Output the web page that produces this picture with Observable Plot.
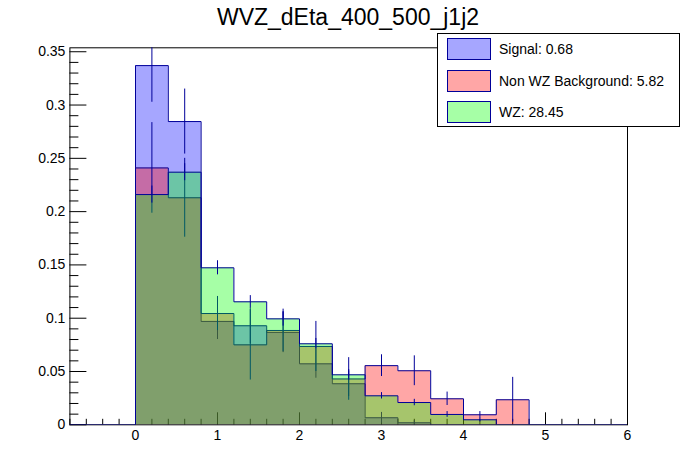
<!DOCTYPE html>
<html>
<head>
<meta charset="utf-8">
<script src="https://cdn.jsdelivr.net/npm/d3@7"></script>
<script src="https://cdn.jsdelivr.net/npm/@observablehq/plot@0.6"></script>
<style>
  html, body { margin: 0; padding: 0; background: #fff; }
  #wrap { position: relative; width: 696px; height: 472px; font-family: "Liberation Sans", Arial, Helvetica, sans-serif; }
  #title { position: absolute; left: 0; width: 696px; top: 6px; text-align: center; font-size: 23px; line-height: 23px; color: #000; }
  #legend { position: absolute; left: 437px; top: 33px; width: 241px; height: 92px; border: 1px solid #000; background: #fff; }
  .row { position: absolute; left: 9px; height: 22px; }
  .sw { position: absolute; left: 0; top: 0; width: 42px; height: 20px; border: 1px solid #000099; }
  .lab { position: absolute; left: 52px; top: 0; font-size: 14px; line-height: 22px; white-space: nowrap; color: #000; }
</style>
</head>
<body>
<div id="wrap">
  <div id="chart"></div>
  <div id="title"></div>
  <div id="legend"></div>
</div>
<script>
// ---- data ----
const title = "WVZ_dEta_400_500_j1j2";
const binEdges = [-0.8, -0.4, 0, 0.4, 0.8, 1.2, 1.6, 2.0, 2.4, 2.8, 3.2, 3.6, 4.0, 4.4, 4.8, 5.2, 5.6, 6.0];
const signal    = [0, 0, 0.337, 0.2845, 0.097, 0.0929, 0.0867, 0.0572, 0.0385, 0.0066, 0.0019, 0, 0, 0, 0, 0, 0];
const signalErr = [0, 0, 0.0344, 0.0305, 0.017, 0.017, 0.019, 0.0135, 0.012, 0.005, 0.002, 0, 0, 0, 0, 0, 0];
const nonWZ     = [0, 0, 0.241, 0.213, 0.1044, 0.075, 0.0885, 0.0735, 0.043, 0.0555, 0.0507, 0.0244, 0.0094, 0.0235, 0, 0, 0];
const nonWZErr  = [0, 0, 0.0425, 0.037, 0.016, 0.033, 0.02, 0.0235, 0.02, 0.0102, 0.014, 0.0063, 0.003, 0.021, 0, 0, 0];
const wz        = [0, 0, 0.216, 0.237, 0.1473, 0.1154, 0.0994, 0.076, 0.0469, 0.0272, 0.0209, 0.0097, 0.0047, 0, 0, 0, 0];
const wzErr     = [0, 0, 0.008, 0.008, 0.0066, 0.0058, 0.0068, 0.005, 0.005, 0.003, 0.003, 0.0027, 0.002, 0, 0, 0, 0];
const seriesNames  = ["Signal", "Non WZ Background", "WZ"];
const seriesTotals = ["0.68", "5.82", "28.45"];
const seriesColors = ["rgb(0,0,255)", "rgb(255,0,0)", "rgb(0,255,0)"];
const swatchColors = ["#a6a6ff", "#ffa6a6", "#a6ffa6"];
const xMajor = [0, 1, 2, 3, 4, 5, 6];
const xLabels = ["0", "1", "2", "3", "4", "5", "6"];
const yMajor = [0, 0.05, 0.1, 0.15, 0.2, 0.25, 0.3, 0.35];
const yLabels = ["0", "0.05", "0.1", "0.15", "0.2", "0.25", "0.3", "0.35"];
const xDomain = [-0.8, 6];
const yDomain = [0, 0.3537];

// ---- layout ----
const W = 696, H = 472, mL = 69.4, mR = 69, mT = 47.3, mB = 47.7;
const pw = W - mL - mR, ph = H - mT - mB;
const lineColor = "#000099";

const xMinor = d3.range(-0.8, 6.0001, 0.2).map(v => +v.toFixed(2)).filter(v => Math.abs(v - Math.round(v)) > 1e-6);
const yMinor = d3.range(0, 0.3501, 0.01).map(v => +v.toFixed(3)).filter(v => Math.abs(v * 20 - Math.round(v * 20)) > 1e-6);

function histMarks(vals, errs, color) {
  const steps = binEdges.map((e, i) => ({x: e, y: vals[Math.min(i, vals.length - 1)]}));
  const bars = vals.map((v, i) => ({c: (binEdges[i] + binEdges[i + 1]) / 2, v, e: errs[i]})).filter(d => d.v > 0);
  return [
    Plot.areaY(steps, {x: "x", y: "y", curve: "step-after", fill: color, fillOpacity: 0.35, clip: true}),
    Plot.line(steps, {x: "x", y: "y", curve: "step-after", stroke: lineColor, strokeWidth: 1, clip: true}),
    Plot.ruleX(bars, {x: "c", y1: d => d.v - d.e, y2: d => d.v + d.e, stroke: lineColor, strokeWidth: 1, clip: true})
  ];
}

const chart = Plot.plot({
  width: W, height: H,
  marginLeft: mL, marginRight: mR, marginTop: mT, marginBottom: mB,
  style: {fontFamily: "'Liberation Sans', Arial, Helvetica, sans-serif", fontSize: "14px", background: "white", color: "black"},
  x: {domain: xDomain, axis: null},
  y: {domain: yDomain, axis: null},
  marks: [
    Plot.frame({stroke: "black", strokeWidth: 1}),
    Plot.tickY(yMinor, {y: d => d, stroke: "black", insetRight: pw - 9}),
    Plot.tickY(yMajor, {y: d => d, stroke: "black", insetRight: pw - 17}),
    Plot.tickX(xMinor, {x: d => d, stroke: "black", insetTop: ph - 5.5}),
    Plot.tickX(xMajor, {x: d => d, stroke: "black", insetTop: ph - 12}),
    Plot.text(yMajor, {y: d => d, text: (d, i) => yLabels[i], frameAnchor: "left", textAnchor: "end", dx: -4.5, fill: "black", fontSize: 14}),
    Plot.text(xMajor, {x: d => d, text: (d, i) => xLabels[i], frameAnchor: "bottom", lineAnchor: "top", dy: 5, fill: "black", fontSize: 14}),
    ...histMarks(signal, signalErr, seriesColors[0]),
    ...histMarks(nonWZ, nonWZErr, seriesColors[1]),
    ...histMarks(wz, wzErr, seriesColors[2])
  ]
});
document.getElementById("chart").appendChild(chart);
document.getElementById("title").textContent = title;

const legend = document.getElementById("legend");
const rowTops = [4, 35.5, 67];
seriesNames.forEach((name, i) => {
  const row = document.createElement("div");
  row.className = "row";
  row.style.top = rowTops[i] + "px";
  const sw = document.createElement("div");
  sw.className = "sw";
  sw.style.background = swatchColors[i];
  const lab = document.createElement("div");
  lab.className = "lab";
  lab.textContent = name + ": " + seriesTotals[i];
  row.appendChild(sw); row.appendChild(lab);
  legend.appendChild(row);
});
</script>
</body>
</html>
